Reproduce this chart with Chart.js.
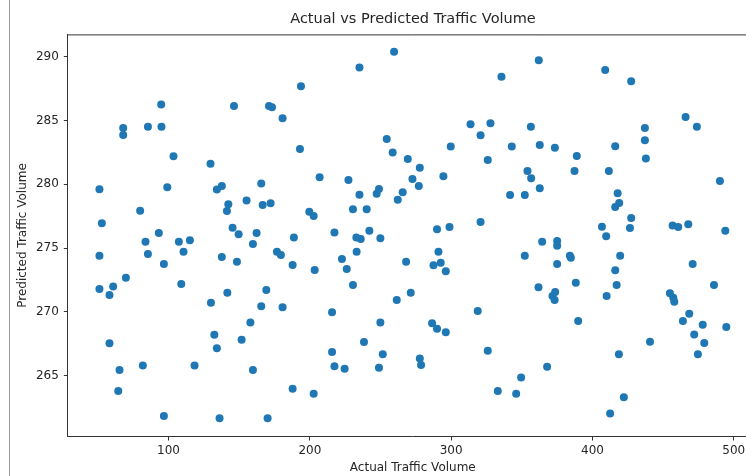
<!DOCTYPE html>
<html>
<head>
<meta charset="utf-8">
<script src="https://cdn.jsdelivr.net/npm/chart.js@4/dist/chart.umd.min.js"></script>
<style>
  html, body { margin:0; padding:0; background:#fff; }
  #view { position:absolute; left:0; top:0; width:746px; height:476px; overflow:hidden; }
  #cell-edge { position:absolute; left:9px; top:0; width:1px; height:476px; background:#9a9a9a; }
  #wrap { position:absolute; left:0; top:0; width:826px; height:476px; }
</style>
</head>
<body>
<div id="view">
<div id="cell-edge"></div>
<div id="wrap"><canvas id="c" width="826" height="476"></canvas></div>
</div>
<script>
// ── data (actual vs predicted) ──
const actual = [
  94.8,146.3,171.1,173.2,180.7,67.9,67.9,85.4,95.0,103.5,129.7,51.1,99.1,134.2,137.7,165.6,79.9,52.8,142.3,141.3,155.2,166.6,172.2,93.1,145.3,149.6,162.3,
  83.7,107.3,115.1,159.7,51.1,85.4,110.6,96.7,137.7,148.4,176.7,179.5,187.8,109.0,51.1,60.8,58.2,69.8,141.6,169.2,130.0,165.6,180.7,157.9,58.2,132.4,134.2,151.7,81.8,118.4,65.3,159.7,64.4,96.7,136.1,170.1,187.8,
  259.6,235.1,335.6,193.7,313.7,327.8,320.8,254.4,193.0,299.7,342.9,258.6,269.3,277.8,325.9,206.9,227.3,272.6,277.1,294.5,235.1,247.3,248.9,265.7,262.2,341.7,230.5,240.2,199.6,202.7,217.4,242.1,290.0,298.8,320.8,188.7,232.9,236.0,249.9,
  203.4,222.7,226.1,233.1,230.5,268.1,291.0,287.5,292.6,296.2,261.5,271.4,215.7,249.9,286.5,290.0,296.2,318.8,238.3,215.7,251.6,217.4,224.6,248.9,277.8,278.7,325.9,202.7,333.0,346.0,
  362.0,409.0,427.4,465.9,473.9,356.4,362.7,373.4,416.1,437.1,437.1,437.8,388.9,354.0,356.6,362.7,352.1,387.3,411.6,417.8,418.9,416.1,427.4,426.5,406.7,409.7,490.2,456.7,460.7,467.8,494.0,364.4,375.0,375.0,
  352.1,375.0,384.0,384.7,419.6,416.1,417.1,410.0,470.9,486.0,361.8,373.6,371.7,373.2,388.2,389.9,454.8,457.2,457.9,468.5,464.0,478.0,494.7,472.0,479.1,474.6,440.7,418.7,367.9,349.5,422.2,412.5
];
const predicted = [
  286.24,286.14,286.14,286.03,285.17,284.41,283.86,284.51,284.51,282.19,281.61,279.61,279.76,279.58,279.87,280.05,277.93,276.94,278.43,277.91,278.72,278.38,278.51,276.18,276.6,276.08,276.18,
  275.5,275.5,275.61,275.32,274.40,274.54,274.72,273.75,274.30,273.93,274.72,274.46,273.68,272.19,271.8,272.0,271.33,272.68,271.5,271.72,270.72,270.44,270.36,269.18,267.54,268.21,267.15,267.82,265.81,265.81,265.45,265.45,263.80,261.84,261.66,261.66,263.98,
  290.39,289.14,288.43,287.68,284.70,284.78,283.84,283.55,282.77,282.95,282.95,282.48,281.98,281.30,281.90,280.55,280.34,280.42,279.87,280.62,279.18,279.26,279.63,279.37,278.79,279.16,278.04,278.04,277.85,277.52,276.22,276.36,276.47,276.65,277.05,275.83,275.82,275.71,275.77,
  273.28,274.15,273.36,274.72,272.11,273.93,274.72,273.65,273.86,273.18,270.93,271.5,269.97,269.18,269.11,268.68,268.40,270.07,267.64,266.86,266.68,265.74,265.55,265.63,266.35,265.84,266.96,263.59,263.80,263.59,
  289.72,288.96,288.07,285.27,284.51,284.51,283.08,282.87,282.98,284.41,283.45,282.01,282.22,281.04,280.47,279.69,279.16,281.04,281.04,279.29,278.53,278.22,277.36,276.58,276.68,275.93,280.26,276.76,276.65,276.86,276.36,275.5,275.56,275.19,
  274.40,273.75,274.40,274.25,274.40,273.26,272.11,271.25,273.75,272.11,271.93,271.56,271.25,270.94,272.29,269.29,271.46,271.11,270.80,269.86,269.29,269.0,268.82,268.24,267.56,266.68,267.67,266.68,265.71,264.87,263.31,262.05
];
const xTicks = [100, 200, 300, 400, 500];
const yTicks = [265, 270, 275, 280, 285, 290];

const FONT = "'DejaVu Sans', sans-serif";
const INK = '#262626';

// matplotlib-style top spine (right spine falls outside the cropped view)
const frame = {
  id: 'frame',
  afterDraw(chart) {
    const {ctx, chartArea:a} = chart;
    ctx.save();
    ctx.strokeStyle = '#333'; ctx.lineWidth = 1;
    ctx.beginPath();
    ctx.moveTo(a.left, a.top + 0.5); ctx.lineTo(a.right, a.top + 0.5);
    ctx.stroke();
    ctx.restore();
  }
};

new Chart(document.getElementById('c').getContext('2d'), {
  type: 'scatter',
  data: { datasets: [{
    data: actual.map((v, i) => ({x: v, y: predicted[i]})),
    backgroundColor: '#1f77b4', borderWidth: 0, pointRadius: 4, pointHoverRadius: 4
  }]},
  plugins: [frame],
  options: {
    responsive: false, animation: false, events: [],
    layout: { padding: 0 },
    plugins: {
      legend: { display: false }, tooltip: { enabled: false },
      title: { display: true, text: 'Actual vs Predicted Traffic Volume', color: INK,
        font: { family: FONT, size: 14.5, weight: 'normal' }, padding: { top: 11, bottom: 6 } }
    },
    scales: {
      x: {
        type: 'linear', min: 28.7, max: 517,
        afterBuildTicks: s => { s.ticks = xTicks.map(v => ({value: v})); },
        afterFit: s => { s.height = 39.5; },
        ticks: { color: INK, font: { family: FONT, size: 12 }, padding: 3 },
        grid: { display: true, drawOnChartArea: false, drawTicks: true, tickLength: 4, color: '#333' },
        border: { display: true, color: '#333' },
        title: { display: true, text: 'Actual Traffic Volume', color: INK,
          font: { family: FONT, size: 12 }, padding: { top: 0, bottom: 1.3 } }
      },
      y: {
        type: 'linear', min: 260.24, max: 291.74,
        afterBuildTicks: s => { s.ticks = yTicks.map(v => ({value: v})); },
        afterFit: s => { s.width = 67.8; },
        ticks: { color: INK, font: { family: FONT, size: 12 }, padding: 5 },
        grid: { display: true, drawOnChartArea: false, drawTicks: true, tickLength: 4, color: '#333' },
        border: { display: true, color: '#333' },
        title: { display: true, text: 'Predicted Traffic Volume', color: INK,
          font: { family: FONT, size: 12 }, padding: { top: 15.8, bottom: 0 } }
      },
      // empty right-hand axis: keeps the plot area as wide as in the cropped original
      y2: {
        type: 'linear', position: 'right', display: true,
        afterFit: s => { s.width = 68.2; },
        ticks: { display: false }, grid: { display: false }, border: { display: false }
      }
    }
  }
});
</script>
</body>
</html>
